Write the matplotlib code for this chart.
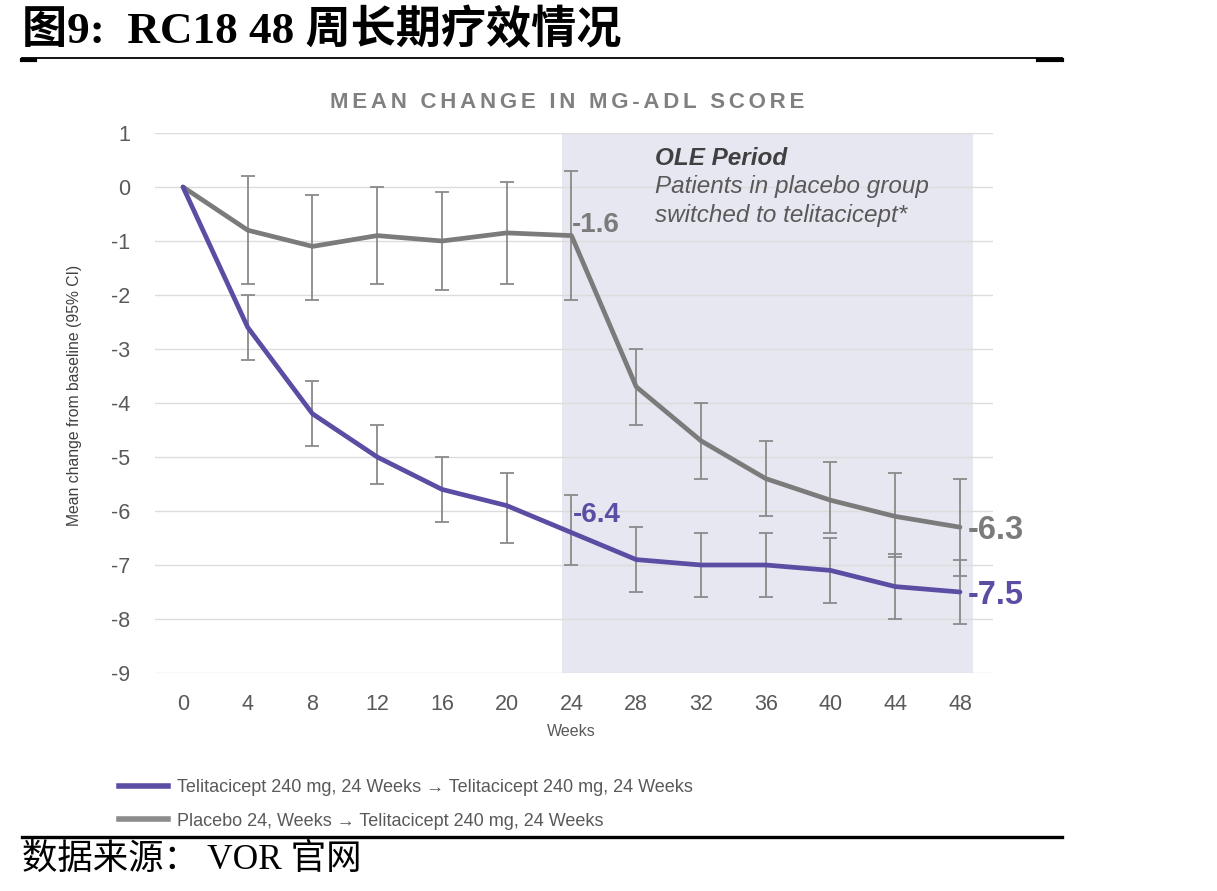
import numpy as np
import matplotlib
matplotlib.use("Agg")
import matplotlib.pyplot as plt
from matplotlib.lines import Line2D

plt.rcParams["axes.unicode_minus"] = False

# ── Data ─────────────────────────────────────────────────────────────────────
weeks = [0, 4, 8, 12, 16, 20, 24, 28, 32, 36, 40, 44, 48]

tel_mean  = [0, -2.6, -4.2, -5.0, -5.6, -5.9, -6.4, -6.9, -7.0, -7.0, -7.1, -7.4, -7.5]
tel_upper = [0, -2.0, -3.6, -4.4, -5.0, -5.3, -5.7, -6.3, -6.4, -6.4, -6.5, -6.8, -6.9]
tel_lower = [0, -3.2, -4.8, -5.5, -6.2, -6.6, -7.0, -7.5, -7.6, -7.6, -7.7, -8.0, -8.1]

pbo_mean  = [0, -0.8, -1.1, -0.9, -1.0, -0.85, -0.9, -3.7, -4.7, -5.4, -5.8, -6.1, -6.3]
pbo_upper = [0, 0.2, -0.15, 0.0, -0.1, 0.1, 0.3, -3.0, -4.0, -4.7, -5.1, -5.3, -5.4]
pbo_lower = [0, -1.8, -2.1, -1.8, -1.9, -1.8, -2.1, -4.4, -5.4, -6.1, -6.4, -6.85, -7.2]

yticks = list(range(1, -10, -1))
ole_span = (23.4, 48.8)

tel_label = "Telitacicept 240 mg, 24 Weeks \u2192 Telitacicept 240 mg, 24 Weeks"
pbo_label = "Placebo 24, Weeks \u2192 Telitacicept 240 mg, 24 Weeks"

PURPLE = "#5a4da3"
GREY   = "#7b7b7b"
ERR    = "#8a8a8a"
TXT    = "#595959"
SANS   = ["Liberation Sans", "DejaVu Sans"]
SERIF  = ["Liberation Serif", "Noto Sans CJK SC", "DejaVu Sans"]

W, H = 1217, 891
fig = plt.figure(figsize=(W / 100, H / 100), dpi=100)
fig.patch.set_facecolor("white")


def fx(px):
    return px / W


def fy(py):
    return 1 - py / H


# ── Main axes ────────────────────────────────────────────────────────────────
ax = fig.add_axes([fx(155), fy(673), fx(993) - fx(155), fy(133) - fy(673)])
ax.set_xlim(-1.73, 50.04)
ax.set_ylim(-9, 1)
for s in ax.spines.values():
    s.set_visible(False)

ax.axvspan(*ole_span, color="#e7e7f2", zorder=0, lw=0)
for y in yticks:
    ax.axhline(y, color="#dcdcdc", lw=1.0, zorder=0.5)

ax.set_yticks(yticks)
ax.set_xticks(weeks)
ax.tick_params(length=0, labelsize=15.5, labelcolor=TXT)
ax.tick_params(axis="y", pad=18)
ax.tick_params(axis="x", pad=15)
for lab in ax.get_xticklabels() + ax.get_yticklabels():
    lab.set_family(SANS)

# error bars (no bar at baseline)
for mean, up, lo in [(tel_mean, tel_upper, tel_lower), (pbo_mean, pbo_upper, pbo_lower)]:
    m = np.array(mean[1:])
    yerr = [m - np.array(lo[1:]), np.array(up[1:]) - m]
    ax.errorbar(weeks[1:], m, yerr=yerr, fmt="none", ecolor=ERR,
                elinewidth=1.3, capsize=5, capthick=1.3, zorder=2)

ax.plot(weeks, pbo_mean, color=GREY, lw=3.4, zorder=3, solid_capstyle="round")
ax.plot(weeks, tel_mean, color=PURPLE, lw=3.4, zorder=4, solid_capstyle="round")

# value labels
ax.text(24.0, -0.7, "-1.6", color=GREY, fontsize=20, fontweight="bold",
        va="center", ha="left", family=SANS)
ax.text(24.1, -6.07, "-6.4", color=PURPLE, fontsize=20, fontweight="bold",
        va="center", ha="left", family=SANS)
ax.text(48.5, -6.37, "-6.3", color=GREY, fontsize=23.5, fontweight="bold",
        va="center", ha="left", family=SANS)
ax.text(48.5, -7.57, "-7.5", color=PURPLE, fontsize=23.5, fontweight="bold",
        va="center", ha="left", family=SANS)

# OLE annotation
ax.text(29.15, 0.53, "OLE Period", color="#404040", fontsize=17.5, fontweight="bold",
        style="italic", va="center", ha="left", family=SANS)
ax.text(29.15, 0.0, "Patients in placebo group", color=TXT, fontsize=17.5,
        style="italic", va="center", ha="left", family=SANS)
ax.text(29.15, -0.52, "switched to telitacicept*", color=TXT, fontsize=17.5,
        style="italic", va="center", ha="left", family=SANS)

# ── Chart title / axis labels ────────────────────────────────────────────────
title = "\u200a\u200a".join("MEAN CHANGE IN MG-ADL SCORE")
fig.text(fx(567), fy(102), title, color="#808080", fontsize=16, fontweight="bold",
         ha="center", va="center", family=SANS)
fig.text(fx(75), fy(395), "Mean change from baseline (95% CI)", rotation=90,
         color="#404040", fontsize=11.3, ha="center", va="center", family=SANS)
fig.text(fx(571), fy(731), "Weeks", color=TXT, fontsize=11.5,
         ha="center", va="center", family=SANS)

# legend
handles = [Line2D([], [], color=PURPLE, lw=4), Line2D([], [], color="#8c8c8c", lw=4)]
leg = fig.legend(handles, [tel_label, pbo_label], loc="upper left",
                 bbox_to_anchor=(fx(103), fy(763)), frameon=False,
                 handlelength=2.7, handletextpad=0.5, labelspacing=0.9,
                 prop={"family": SANS, "size": 13})
for t in leg.get_texts():
    t.set_color(TXT)

# ── Report header / footer ───────────────────────────────────────────────────
fig.text(fx(22), fy(31), "图9:  RC18 48 周长期疗效情况", fontsize=32.5, fontweight="bold",
         ha="left", va="center", family=SERIF, color="black")
fig.add_artist(Line2D([fx(22), fx(1062)], [fy(58), fy(58)], color="black", lw=1.3))
fig.add_artist(Line2D([fx(22), fx(35)], [fy(59.5), fy(59.5)], color="black", lw=3))
fig.add_artist(Line2D([fx(1038), fx(1062)], [fy(59.5), fy(59.5)], color="black", lw=3))
fig.add_artist(Line2D([fx(22), fx(1062)], [fy(837), fy(837)], color="black", lw=2.4))
fig.text(fx(22), fy(860), "数据来源： VOR 官网", fontsize=25.5,
         ha="left", va="center", family=SERIF, color="black")

fig.savefig("out.png", dpi=100, facecolor="white")
